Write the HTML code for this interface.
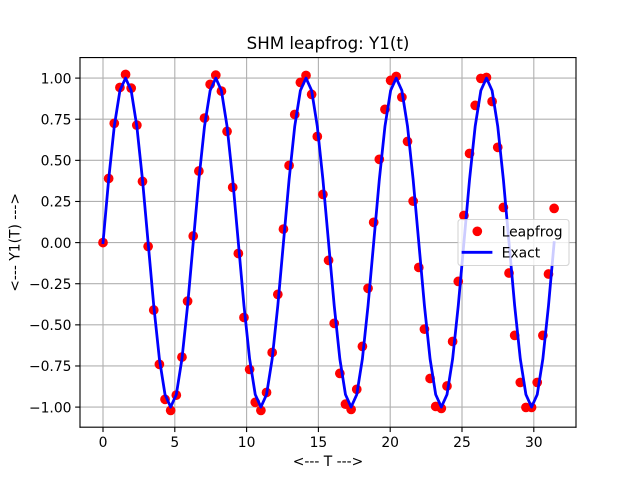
<!DOCTYPE html>
<html lang="en">
<head>
<meta charset="utf-8">
<title>SHM leapfrog: Y1(t)</title>
<style>
html,body{margin:0;padding:0;background:#fff;}
svg{display:block;}
text{font-family:"DejaVu Sans","Liberation Sans",sans-serif;fill:#000;}
</style>
</head>
<body>
<svg id="chart" xmlns="http://www.w3.org/2000/svg" width="640" height="480" viewBox="0 0 640 480">
  <rect x="0" y="0" width="640" height="480" fill="#fff"/>
  <rect x="80" y="57.6" width="496" height="369.6" fill="#fff"/>
  <g id="grid"></g>
  <g id="series"></g>
  <g id="axes"></g>
  <text x="328" y="49" font-size="16.67" text-anchor="middle">SHM leapfrog: Y1(t)</text>
  <text x="328" y="466" font-size="13.89" text-anchor="middle">&lt;--- T ---&gt;</text>
  <text x="0" y="0" font-size="13.89" text-anchor="middle" transform="translate(19.5 242.4) rotate(-90)">&lt;--- Y1(T) ---&gt;</text>
  <g>
    <rect x="458" y="219.5" width="111" height="46" rx="2.8" ry="2.8" fill="#fff" fill-opacity="0.8" stroke="#ccc" stroke-opacity="0.8" stroke-width="1.11"/>
    <circle cx="477.3" cy="231.3" r="4.86" fill="#f00"/>
    <text x="501.6" y="236.3" font-size="13.89">Leapfrog</text>
    <line x1="463" y1="252.3" x2="491" y2="252.3" stroke="#00f" stroke-width="2.78" stroke-linecap="square"/>
    <text x="501.6" y="257.3" font-size="13.89">Exact</text>
  </g>
</svg>
<script>
const times = [0,0.393,0.785,1.178,1.571,1.963,2.356,2.749,3.142,3.534,3.927,4.32,4.712,5.105,5.498,5.89,6.283,6.676,7.069,7.461,7.854,8.247,8.639,9.032,9.425,9.817,10.21,10.603,10.996,11.388,11.781,12.174,12.566,12.959,13.352,13.744,14.137,14.53,14.923,15.315,15.708,16.101,16.493,16.886,17.279,17.671,18.064,18.457,18.85,19.242,19.635,20.028,20.42,20.813,21.206,21.598,21.991,22.384,22.777,23.169,23.562,23.955,24.347,24.74,25.133,25.525,25.918,26.311,26.704,27.096,27.489,27.882,28.274,28.667,29.06,29.452,29.845,30.238,30.631,31.023,31.416];
const leapfrogValues = [0,0.39,0.725,0.943,1.022,0.939,0.714,0.372,-0.023,-0.41,-0.74,-0.953,-1.02,-0.927,-0.696,-0.356,0.04,0.435,0.757,0.962,1.018,0.921,0.676,0.336,-0.066,-0.455,-0.771,-0.971,-1.02,-0.911,-0.668,-0.315,0.082,0.469,0.779,0.974,1.016,0.901,0.645,0.293,-0.108,-0.491,-0.795,-0.982,-1.014,-0.892,-0.631,-0.278,0.123,0.506,0.81,0.986,1.01,0.884,0.615,0.252,-0.151,-0.526,-0.826,-0.996,-1.008,-0.872,-0.601,-0.236,0.165,0.542,0.834,0.998,1.004,0.858,0.579,0.214,-0.185,-0.564,-0.85,-1.002,-1.002,-0.85,-0.564,-0.191,0.208];
const exactValues = [0,0.383,0.707,0.924,1,0.924,0.707,0.383,0,-0.383,-0.707,-0.924,-1,-0.924,-0.707,-0.383,0,0.383,0.707,0.924,1,0.924,0.707,0.383,0,-0.383,-0.707,-0.924,-1,-0.924,-0.707,-0.383,0,0.383,0.707,0.924,1,0.924,0.707,0.383,0,-0.383,-0.707,-0.924,-1,-0.924,-0.707,-0.383,0,0.383,0.707,0.924,1,0.924,0.707,0.383,0,-0.383,-0.707,-0.924,-1,-0.924,-0.707,-0.383,0,0.383,0.707,0.924,1,0.924,0.707,0.383,0,-0.383,-0.707,-0.924,-1,-0.924,-0.707,-0.383,0];
const xTicks = [0,5,10,15,20,25,30];
const yTicks = [1,0.75,0.5,0.25,0,-0.25,-0.5,-0.75,-1];
const yTickLabels = ["1.00","0.75","0.50","0.25","0.00","\u22120.25","\u22120.50","\u22120.75","\u22121.00"];

const NS = 'http://www.w3.org/2000/svg';
const plotLeft = 80, plotRight = 576, plotTop = 57.6, plotBottom = 427.2;
function xScale(t){ return 103 + 14.36 * t; }
function yScale(v){ return 242.6 - 164.5 * v; }
function make(tag, attrs){
  const el = document.createElementNS(NS, tag);
  for (const k in attrs) el.setAttribute(k, attrs[k]);
  return el;
}
const grid = document.getElementById('grid');
const axes = document.getElementById('axes');
const series = document.getElementById('series');

xTicks.forEach(function(t){
  const x = xScale(t);
  const g = make('line', {x1:x, x2:x, y1:plotTop, y2:plotBottom, stroke:'#b0b0b0', 'stroke-width':1.11});
  
  
  grid.appendChild(g);
  const m = make('line', {x1:x, x2:x, y1:plotBottom, y2:plotBottom + 4.86, stroke:'#000', 'stroke-width':1.11});
  
  
  axes.appendChild(m);
  const l = make('text', {x:x, y:447, 'font-size':13.89, 'text-anchor':'middle'});
  l.textContent = String(t);
  
  
  axes.appendChild(l);
});

yTicks.forEach(function(v, i){
  const y = yScale(v);
  const g = make('line', {x1:plotLeft, x2:plotRight, y1:y, y2:y, stroke:'#b0b0b0', 'stroke-width':1.11});
  
  
  grid.appendChild(g);
  const m = make('line', {x1:plotLeft - 4.86, x2:plotLeft, y1:y, y2:y, stroke:'#000', 'stroke-width':1.11});
  
  
  axes.appendChild(m);
  const l = make('text', {x:plotLeft - 8.5, y:y + 5.2, 'font-size':13.89, 'text-anchor':'end'});
  l.textContent = yTickLabels[i];
  
  
  axes.appendChild(l);
});

leapfrogValues.forEach(function(v, i){
  const c = make('circle', {cx:xScale(times[i]), cy:yScale(v), r:4.86, fill:'#f00'});
  
  
  series.appendChild(c);
});

const exactLine = make('polyline', {
  points: exactValues.map(function(v, i){ return xScale(times[i]) + ',' + yScale(v); }).join(' '),
  fill:'none', stroke:'#00f', 'stroke-width':2.78, 'stroke-linejoin':'round', 'stroke-linecap':'square'
});


series.appendChild(exactLine);

[['left',plotLeft,plotTop,plotLeft,plotBottom],['right',plotRight,plotTop,plotRight,plotBottom],['top',plotLeft,plotTop,plotRight,plotTop],['bottom',plotLeft,plotBottom,plotRight,plotBottom]].forEach(function(s){
  const sp = make('line', {x1:s[1], y1:s[2], x2:s[3], y2:s[4], stroke:'#000', 'stroke-width':1.11, 'stroke-linecap':'square'});
  
  
  axes.appendChild(sp);
});
</script>
</body>
</html>
